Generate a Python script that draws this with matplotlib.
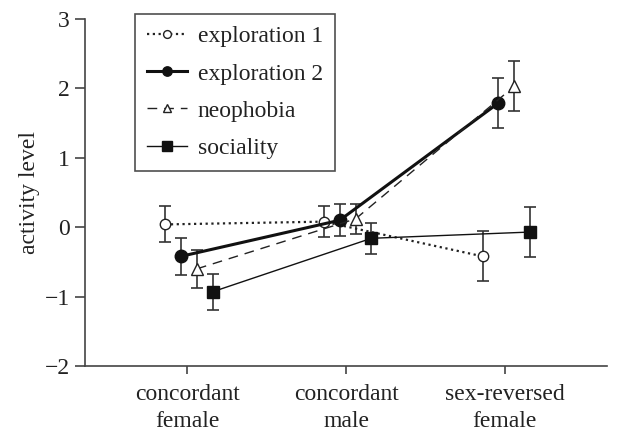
import matplotlib
matplotlib.use("Agg")
import matplotlib.pyplot as plt
import numpy as np

categories = ["concordant\nfemale", "concordant\nmale", "sex-reversed\nfemale"]
series_names = ["exploration 1", "exploration 2", "neophobia", "sociality"]
exploration1 = [0.04, 0.08, -0.42]
exploration1_err = [0.26, 0.22, 0.36]
exploration2 = [-0.42, 0.10, 1.79]
exploration2_err = [0.27, 0.23, 0.36]
neophobia = [-0.60, 0.12, 2.03]
neophobia_err = [0.27, 0.22, 0.36]
sociality = [-0.93, -0.16, -0.07]
sociality_err = [0.26, 0.22, 0.36]

plt.rcParams['font.family'] = ['Liberation Serif', 'DejaVu Serif']
plt.rcParams['font.size'] = 17

fig = plt.figure(figsize=(6.17, 4.37), dpi=100)
ax = fig.add_axes([0.138, 0.1625, 0.846, 0.794])

x = np.arange(1, 4)
offsets = [-0.14, -0.04, 0.06, 0.16]
ecol = '#333333'
styles = [
    dict(ls=(0, (1, 1.6)), lw=1.6, marker='o', mfc='white', mec='#222222', ms=7.5, color='#222222', mew=1.0),
    dict(ls='-', lw=2.2, marker='o', mfc='#111111', mec='#111111', ms=9, color='#111111'),
    dict(ls=(0, (7, 5)), lw=1.0, marker='^', mfc='white', mec='#222222', ms=8, color='#222222', mew=1.0),
    dict(ls='-', lw=1.0, marker='s', mfc='#111111', mec='#111111', ms=9, color='#111111'),
]
data = [(exploration1, exploration1_err), (exploration2, exploration2_err),
        (neophobia, neophobia_err), (sociality, sociality_err)]
handles = []
for (vals, errs), off, st, name in zip(data, offsets, styles, series_names):
    ax.errorbar(x + off, vals, yerr=errs, fmt='none', ecolor=ecol, elinewidth=1.2,
                capsize=4, capthick=1.2, zorder=2)
    h, = ax.plot(x + off, vals, label=name, zorder=3, **st)
    handles.append(h)

ax.set_xlim(0.356, 3.645)
ax.set_ylim(-2, 3)
ax.set_yticks([-2, -1, 0, 1, 2, 3])
ax.set_yticklabels(['\u22122', '\u22121', '0', '1', '2', '3'])
ax.set_xticks(x)
ax.set_xticklabels(categories, linespacing=1.4)
for s in ['top', 'right']:
    ax.spines[s].set_visible(False)
for s in ['left', 'bottom']:
    ax.spines[s].set_color('#444444')
    ax.spines[s].set_linewidth(1.2)
ax.tick_params(axis='y', direction='out', length=7, width=1.2, color='#444444', pad=4, labelcolor='#222222')
ax.tick_params(axis='x', direction='out', length=6, width=1.2, color='#444444', pad=7, labelcolor='#222222')
ax.set_ylabel('activity level', color='#222222', labelpad=3)

leg = ax.legend(handles=handles, loc='upper left', bbox_to_anchor=(0.096, 1.014),
                frameon=True, fancybox=False, edgecolor='#222222', numpoints=1,
                handlelength=1.7, handletextpad=0.45, labelspacing=0.66,
                borderpad=0.5, fontsize=17, borderaxespad=0, markerscale=0.75)
leg.get_frame().set_linewidth(1.2)
for t in leg.get_texts():
    t.set_color('#222222')

fig.savefig('out.png', dpi=100)
